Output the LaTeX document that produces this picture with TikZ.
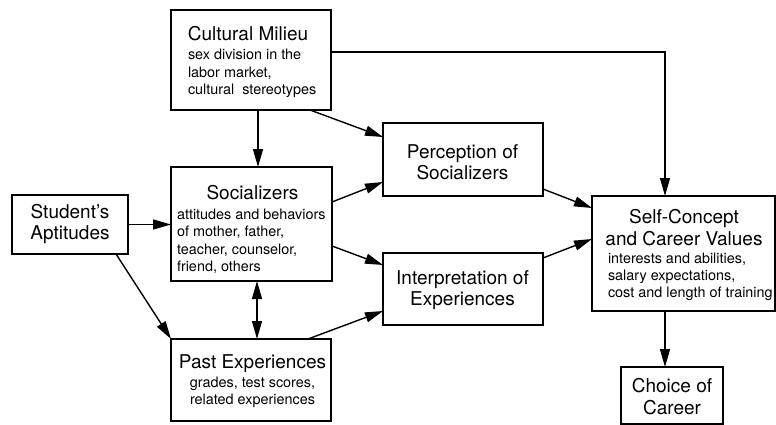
\documentclass[tikz,border=0pt]{standalone}
\usepackage{fontspec}
\setmainfont{TeX Gyre Heros}
\usetikzlibrary{arrows.meta,calc}
\newcommand\ttl{\fontsize{19}{21}\selectfont}
\newcommand\sbt{\fontsize{14.4}{17.5}\selectfont}
\newcommand\ctrlines[1]{\vtop{\halign{\hfil##\hfil\cr#1\crcr}}}
\newcommand\leftlines[1]{\vtop{\halign{##\hfil\cr#1\crcr}}}
\tikzset{
  box/.style={draw, line width=1.3pt, inner sep=0pt, outer sep=0pt, anchor=north west},
  txt/.style={inner sep=0pt, outer sep=0pt},
  arr/.style={line width=1.4pt, -{Triangle[length=18pt,width=10pt]}},
  darr/.style={line width=1.4pt, {Triangle[length=18pt,width=10pt]}-{Triangle[length=18pt,width=10pt]}}
}
\begin{document}
\begin{tikzpicture}[x=1pt,y=-1pt]
\useasboundingbox (0,0) rectangle (776,425);
% boxes
\node[box, minimum width=160pt, minimum height=100pt] (cm) at (171,10) {};
\node[box, minimum width=161pt, minimum height=114pt] (soc) at (171,167) {};
\node[box, minimum width=116pt, minimum height=59pt] (apt) at (12,195) {};
\node[box, minimum width=160pt, minimum height=82pt] (past) at (171,339) {};
\node[box, minimum width=160pt, minimum height=73pt] (perc) at (383,123) {};
\node[box, minimum width=160pt, minimum height=72pt] (interp) at (383,253) {};
\node[box, minimum width=183pt, minimum height=115pt] (self) at (592,196) {};
\node[box, minimum width=102pt, minimum height=57pt] (choice) at (621,367) {};
% texts
\node[txt, anchor=base] (cmT) at (248,41) {\ttl Cultural Milieu};
\node[txt, anchor=base west] (cmS) at (188,60) {\sbt\leftlines{sex division in the\cr labor market,\cr cultural\ \ stereotypes}};
\node[txt, anchor=base] (socT) at (252.5,199) {\ttl Socializers};
\node[txt, anchor=base west] (socS) at (177,219) {\sbt\leftlines{attitudes and behaviors\cr of mother, father,\cr teacher, counselor,\cr friend, others}};
\node[txt, anchor=base] (aptT) at (70,218) {\ttl\ctrlines{Student's\cr Aptitudes}};
\node[txt, anchor=base] (pastT) at (252.5,368) {\ttl Past Experiences};
\node[txt, anchor=base] (pastS) at (252.5,387) {\sbt\ctrlines{grades, test scores,\cr related experiences}};
\node[txt, anchor=base] (percT) at (462.5,158) {\ttl\ctrlines{Perception of\cr Socializers}};
\node[txt, anchor=base] (interpT) at (462.5,284) {\ttl\ctrlines{Interpretation of\cr Experiences}};
\node[txt, anchor=base] (selfT) at (684,223) {\fontsize{19}{22}\selectfont\ctrlines{Self-Concept\cr and Career Values}};
\node[txt, anchor=base west] (selfS) at (608,263) {\fontsize{14.4}{17}\selectfont\leftlines{interests and abilities,\cr salary expectations,\cr cost and length of training}};
\node[txt, anchor=base] (choiceT) at (672,392) {\fontsize{19}{22}\selectfont\ctrlines{Choice of\cr Career}};
% connectors
\draw[arr, line width=1.2pt] ([yshift=8pt]cm.east) -| ([xshift=-18.5pt]self.north);
\draw[arr] ([xshift=7pt]cm.south) -- ([xshift=7pt]cm.south |- soc.north);
\draw[arr] ([xshift=139pt]cm.south west) -- ([yshift=-14pt]perc.north west);
\draw[arr] ([yshift=-35pt]soc.north east) -- ([yshift=-59pt]perc.north west);
\draw[arr] ([yshift=-79pt]soc.north east) -- ([yshift=-12pt]interp.north west);
\draw[arr] ([xshift=137pt]past.north west) -- ([yshift=-58pt]interp.north west);
\draw[arr] (apt.east) -- (apt.east -| soc.west);
\draw[arr] ([xshift=-12pt]apt.south east) -- (past.north west);
\draw[darr] ([xshift=5.5pt]soc.south) -- ([xshift=5.5pt]soc.south |- past.north);
\draw[arr] ([yshift=-66pt]perc.north east) -- ([yshift=-12pt]self.north west);
\draw[arr] ([yshift=-5pt]interp.north east) -- ([yshift=-43pt]self.north west);
\draw[arr] ([xshift=-18.5pt]self.south) -- ([xshift=-18.5pt]self.south |- choice.north);
\end{tikzpicture}
\end{document}
